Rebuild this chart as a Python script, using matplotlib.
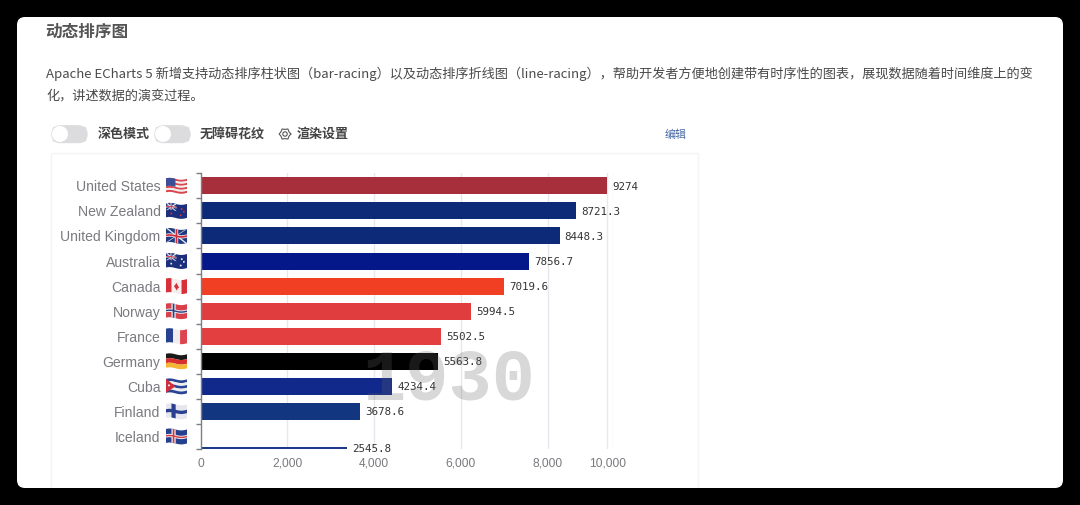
import numpy as np
import matplotlib
matplotlib.use('Agg')
import matplotlib.pyplot as plt
from matplotlib.patches import FancyBboxPatch, Circle, Rectangle

W, H = 1080, 505
CJK = ['Noto Sans CJK SC', 'DejaVu Sans']
plt.rcParams['font.family'] = CJK

# Data
countries = ['United States', 'New Zealand', 'United Kingdom', 'Australia', 'Canada', 'Norway',
             'France', 'Germany', 'Cuba', 'Finland', 'Iceland']
# bar length as drawn (the frame is mid animation, so labels and lengths differ)
bar_lengths = [9372, 8657, 8276, 7573, 6997, 6236, 5545, 5475, 4415, 3677, 3378]
value_labels = ['9274', '8721.3', '8448.3', '7856.7', '7019.6', '5994.5', '5502.5', '5563.8', '4234.4', '3678.6', '2545.8']
bar_colors = ['#a72f3b', '#0c2a78', '#0c2a78', '#05188a', '#f03f22', '#e03d3e', '#e33f40', '#000000',
              '#10298a', '#133680', '#1b3a8a']
grid_values = [0, 2000, 4000, 6000, 8000, 9378, 9516]
tick_values = [0, 2000, 4000, 6000, 8000, 9378]
tick_labels = ['0', '2,000', '4,000', '6,000', '8,000', '10,000']
year = '1930'

title = '动态排序图'
desc_1 = 'Apache ECharts 5 新增支持动态排序柱状图（bar-racing）以及动态排序折线图（line-racing），帮助开发者方便地创建带有时序性的图表，展现数据随着时间维度上的变'
desc_2 = '化，讲述数据的演变过程。'


def px(size):
    return size * 0.72


fig = plt.figure(figsize=(W / 100, H / 100), dpi=100, facecolor='black')

# page layer in pixel coordinates
page = fig.add_axes([0, 0, 1, 1], zorder=0)
page.set_xlim(0, W)
page.set_ylim(H, 0)
page.axis('off')
card = FancyBboxPatch((25, 25), 1030, 455, boxstyle='round,pad=8,rounding_size=8', fc='white', ec='none')
page.add_patch(card)
box = Rectangle((50.5, 153), 647.5, 350, fc='white', ec='#f4f4f5', lw=1)
page.add_patch(box)
box.set_clip_path(card)

page.text(45, 32, title, fontsize=px(16.6), fontweight='bold', color='#555555', va='center')
page.text(46, 74, desc_1, fontsize=px(13.18), color='#4a4a4a', va='center')
page.text(46, 96, desc_2, fontsize=px(13.18), color='#4a4a4a', va='center')

for x0 in (51, 154):
    page.add_patch(FancyBboxPatch((x0 + 9, 134), 19, 0.5, boxstyle='round,pad=0,rounding_size=0.2', fc='#dcdcde', ec='#dcdcde', lw=12.5, capstyle='round'))
    page.add_patch(Circle((x0 + 9, 134), 8, fc='white', ec='none'))
page.text(97.5, 134, '深色模式', fontsize=px(13), fontweight='bold', color='#444444', va='center')
page.text(199.5, 134, '无障碍花纹', fontsize=px(13), fontweight='bold', color='#444444', va='center')
page.text(296.5, 134, '渲染设置', fontsize=px(13), fontweight='bold', color='#444444', va='center')
page.text(665, 135, '编辑', fontsize=px(11), color='#4a6ba8', va='center')

# gear icon
ang = np.linspace(0, 2 * np.pi, 13)
page.plot(285 + 5.2 * np.cos(ang) * (1 + 0.12 * np.cos(6 * ang)), 134 + 5.2 * np.sin(ang) * (1 + 0.12 * np.cos(6 * ang)), color='#555555', lw=0.8)
page.add_patch(Circle((285, 134), 2.2, fc='none', ec='#555555', lw=0.8))

# chart
left, right, top, bottom = 200.5, 613.3, 173.3, 449.0
ax = fig.add_axes([left / W, 1 - bottom / H, (right - left) / W, (bottom - top) / H], zorder=1)
ax.patch.set_alpha(0)
ax.set_xlim(0, grid_values[-1])
ax.set_ylim(len(countries) - 0.5, -0.5)
for s in ('top', 'right', 'bottom'):
    ax.spines[s].set_visible(False)
ax.spines['left'].set_color('#7c7e86')
ax.spines['left'].set_linewidth(1)

for g in grid_values[1:]:
    ax.axvline(g, color='#e6e8ee', lw=1, zorder=0)

rows = np.arange(len(countries))
ax.barh(rows[:-1], bar_lengths[:-1], height=0.68, color=bar_colors[:-1], zorder=2)
# Iceland is still sliding in, only a sliver shows at the bottom of the axis
ax.barh(rows[-1] + 0.46, bar_lengths[-1], height=0.07, color=bar_colors[-1], zorder=2)

for i, lab in enumerate(value_labels):
    y = rows[i] + (0.46 if i == len(rows) - 1 else 0)
    ax.annotate(lab, (bar_lengths[i], y), xytext=(px(5), -px(0.8)), textcoords='offset points', va='center',
                fontsize=px(10.9), family='DejaVu Sans Mono', color='#333333', zorder=4, annotation_clip=False)

ax.set_xticks(tick_values)
ax.set_xticklabels(tick_labels, fontsize=px(12), color='#7a7a80', family='Liberation Sans')
ax.tick_params(axis='x', length=0, pad=px(9))
ax.set_yticks(rows)
ax.set_yticklabels(countries, fontsize=px(14), color='#7a7a80', family='Liberation Sans')
ax.tick_params(axis='y', length=0, pad=px(40))
ax.set_yticks(np.arange(len(countries) + 1) - 0.5, minor=True)
ax.tick_params(axis='y', which='minor', length=px(5), color='#7c7e86', width=1)

ax.text(0.81, 0.247, year, transform=ax.transAxes, ha='right', va='center', fontsize=px(72), fontweight='bold',
        family='Liberation Mono', color=(100 / 255, 100 / 255, 100 / 255, 0.25), zorder=5)


# flags, drawn as small waved patches in page pixels
def flag_poly(cx, cy, us, vs, color):
    us, vs = np.array(us, float), np.array(vs, float)
    wave = 1.0 * np.sin(us * 2 * np.pi * 0.9 + 0.6)
    page.fill(cx + (us - 0.5) * 21, cy + (vs - 0.5) * 14 - wave, color=color, lw=0)


def flag_rect(cx, cy, x0, y0, x1, y1, color):
    xs = np.linspace(x0, x1, 8)
    flag_poly(cx, cy, np.r_[xs, xs[::-1]], np.r_[np.full(8, y0), np.full(8, y1)], color)


def union_jack(cx, cy, x1, y1):
    flag_rect(cx, cy, 0, 0, x1, y1, '#1f3a80')
    for a, b in ((0, 1), (1, 0)):
        w = 0.08
        flag_poly(cx, cy, [0, w, x1, x1 - w], [a * y1, a * y1, b * y1, b * y1], '#e8e8ee')
    flag_rect(cx, cy, x1 * 0.42, 0, x1 * 0.58, y1, '#e8e8ee')
    flag_rect(cx, cy, 0, y1 * 0.38, x1, y1 * 0.62, '#e8e8ee')
    flag_rect(cx, cy, x1 * 0.46, 0, x1 * 0.54, y1, '#cf2a3a')
    flag_rect(cx, cy, 0, y1 * 0.44, x1, y1 * 0.56, '#cf2a3a')


def nordic(cx, cy, bg, outer, inner=None):
    flag_rect(cx, cy, 0, 0, 1, 1, bg)
    flag_rect(cx, cy, 0.26, 0, 0.46, 1, outer)
    flag_rect(cx, cy, 0, 0.38, 1, 0.62, outer)
    if inner:
        flag_rect(cx, cy, 0.32, 0, 0.40, 1, inner)
        flag_rect(cx, cy, 0, 0.45, 1, 0.55, inner)


def draw_flag(name, cx, cy):
    if name == 'United States':
        for k in range(7):
            flag_rect(cx, cy, 0, k / 7, 1, (k + 1) / 7, '#d8474f' if k % 2 == 0 else '#f2eeee')
        flag_rect(cx, cy, 0, 0, 0.45, 4 / 7, '#3c4f96')
    elif name in ('New Zealand', 'Australia'):
        flag_rect(cx, cy, 0, 0, 1, 1, '#1c2f7c')
        union_jack(cx, cy, 0.5, 0.5)
        star = '#d8333f' if name == 'New Zealand' else '#eeeeee'
        for u, v in ((0.75, 0.3), (0.85, 0.5), (0.7, 0.75), (0.25, 0.75)):
            flag_rect(cx, cy, u - 0.04, v - 0.06, u + 0.04, v + 0.06, star)
    elif name == 'United Kingdom':
        union_jack(cx, cy, 1, 1)
    elif name == 'Canada':
        flag_rect(cx, cy, 0, 0, 1, 1, '#f4eeee')
        flag_rect(cx, cy, 0, 0, 0.26, 1, '#d8303a')
        flag_rect(cx, cy, 0.74, 0, 1, 1, '#d8303a')
        flag_poly(cx, cy, [0.5, 0.62, 0.55, 0.5, 0.45, 0.38], [0.25, 0.55, 0.65, 0.8, 0.65, 0.55], '#d8303a')
    elif name == 'Norway':
        nordic(cx, cy, '#d8414a', '#eeeeee', '#2c3f85')
    elif name == 'France':
        flag_rect(cx, cy, 0, 0, 0.34, 1, '#27408f')
        flag_rect(cx, cy, 0.34, 0, 0.67, 1, '#f0ecec')
        flag_rect(cx, cy, 0.67, 0, 1, 1, '#dc4550')
    elif name == 'Germany':
        flag_rect(cx, cy, 0, 0, 1, 0.34, '#1a1a1a')
        flag_rect(cx, cy, 0, 0.34, 1, 0.67, '#d8302c')
        flag_rect(cx, cy, 0, 0.67, 1, 1, '#f2b632')
    elif name == 'Cuba':
        for k in range(5):
            flag_rect(cx, cy, 0, k / 5, 1, (k + 1) / 5, '#2a4595' if k % 2 == 0 else '#eeeeee')
        flag_poly(cx, cy, [0, 0.45, 0], [0, 0.5, 1], '#cf2f3c')
        flag_rect(cx, cy, 0.1, 0.44, 0.18, 0.56, '#ffffff')
    elif name == 'Finland':
        nordic(cx, cy, '#e6e6ee', '#2a3f8f')
    elif name == 'Iceland':
        nordic(cx, cy, '#25408f', '#eeeeee', '#d23a44')


fig.canvas.draw()
for i, name in enumerate(countries):
    cy = H - ax.transData.transform((0, rows[i]))[1]
    draw_flag(name, 176.5, cy)

fig.savefig('out.png', dpi=100, facecolor='black')
